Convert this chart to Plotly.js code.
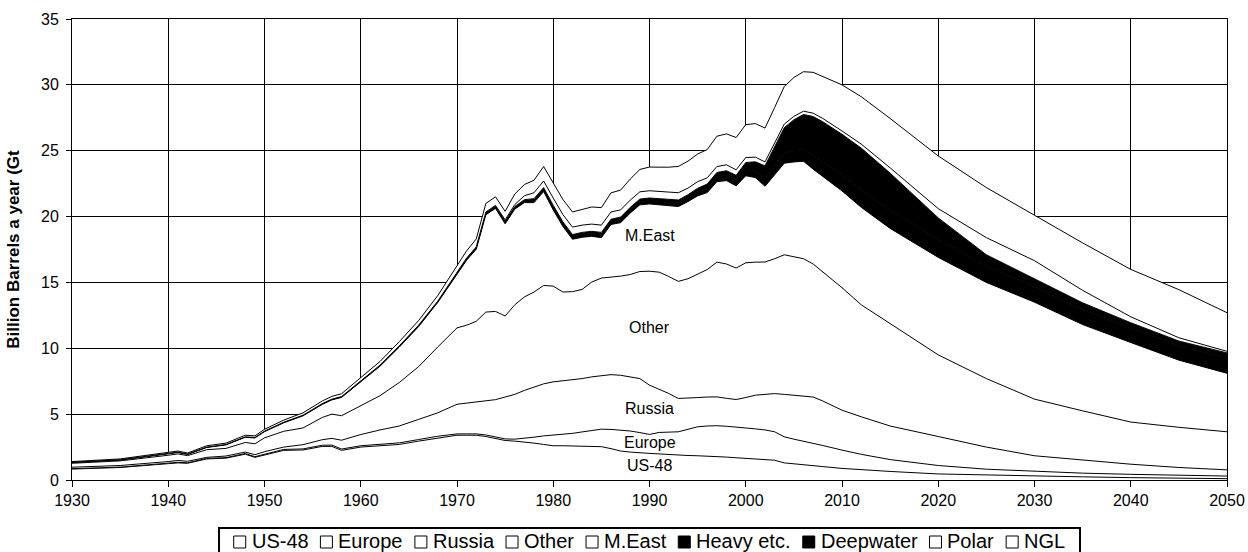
<!DOCTYPE html>
<html>
<head>
<meta charset="utf-8">
<script src="https://cdn.plot.ly/plotly-3.0.1.min.js"></script>
<style>html,body{margin:0;padding:0;background:#fff;}#chart{width:1248px;height:552px;}</style>
</head>
<body>
<div id="chart"></div>
<script>
// Years of the series (annual where the curves wiggle)
const years = [1930,1935,1940,1941,1942,1944,1946,1948,1949,1950,1952,1954,1956,1957,1958,1960,1962,1964,1966,1968,
1970,1971,1972,1973,1974,1975,1976,1977,1978,1979,1980,1981,1982,1983,1984,1985,1986,1987,1988,1989,1990,1991,1992,1993,1994,1995,1996,1997,1998,1999,2000,2001,2002,2003,2004,2005,2006,2007,2008,
2010,2012,2015,2020,2025,2030,2035,2040,2045,2050];

// Production by source, billion barrels a year (stacked bottom to top)
const us48 = [0.83,0.95,1.24,1.30,1.27,1.60,1.66,1.96,1.72,1.90,2.25,2.28,2.55,2.55,2.25,2.50,2.60,2.70,2.95,3.20,
3.40,3.40,3.40,3.30,3.15,3.00,2.95,2.90,2.80,2.70,2.60,2.60,2.58,2.57,2.55,2.53,2.38,2.20,2.12,2.05,2.02,1.98,1.93,1.89,1.86,1.84,1.82,1.79,1.74,1.69,1.64,1.64,1.58,1.50,1.30,1.22,1.15,1.08,1.02,
0.88,0.78,0.65,0.46,0.37,0.30,0.24,0.18,0.14,0.10];
const europe = [0.03,0.03,0.04,0.04,0.04,0.04,0.04,0.05,0.05,0.05,0.07,0.08,0.09,0.10,0.10,0.10,0.10,0.12,0.12,0.12,
0.10,0.12,0.10,0.12,0.10,0.12,0.15,0.25,0.45,0.65,0.81,0.85,0.96,1.08,1.23,1.33,1.46,1.60,1.60,1.55,1.44,1.63,1.70,1.77,1.99,2.20,2.28,2.33,2.34,2.35,2.31,2.24,2.22,2.16,1.98,1.88,1.80,1.70,1.60,
1.39,1.17,0.90,0.64,0.45,0.35,0.28,0.25,0.22,0.20];
const russia = [0.11,0.12,0.12,0.14,0.11,0.08,0.12,0.11,0.15,0.20,0.18,0.32,0.42,0.51,0.67,0.85,1.10,1.28,1.53,1.78,
2.25,2.33,2.45,2.58,2.85,3.18,3.40,3.65,3.82,3.95,4.04,4.07,4.04,4.05,4.05,4.04,4.16,4.15,4.13,4.10,3.74,3.29,2.94,2.53,2.35,2.22,2.20,2.19,2.12,2.07,2.31,2.56,2.70,2.90,3.22,3.33,3.40,3.52,3.38,
3.03,2.85,2.55,2.20,1.68,1.19,0.98,0.77,0.59,0.47];
const other = [0.30,0.35,0.48,0.50,0.43,0.58,0.58,0.73,0.83,1.05,1.20,1.27,1.69,1.84,1.86,2.20,2.60,3.30,4.00,5.00,
5.80,5.90,6.10,6.75,6.70,6.15,6.80,7.10,7.20,7.47,7.27,6.75,6.72,6.77,7.20,7.43,7.40,7.53,7.75,8.13,8.65,8.88,8.88,8.89,9.08,9.34,9.68,10.23,10.20,9.98,10.23,10.10,10.05,10.24,10.60,10.52,10.45,10.10,9.80,
9.30,8.50,7.80,6.20,5.20,4.30,3.75,3.20,3.05,2.89];
const meast = [0.06,0.07,0.11,0.11,0.09,0.17,0.27,0.39,0.44,0.47,0.64,0.92,0.99,1.08,1.39,1.78,2.24,2.69,3.04,3.38,
4.10,4.94,5.47,7.39,7.82,7.00,7.26,7.16,6.79,7.13,5.78,4.98,3.98,3.96,3.47,3.07,4.00,4.06,4.67,5.06,5.11,5.11,5.38,5.68,5.86,5.97,5.84,6.11,6.33,6.24,6.61,6.42,5.75,6.40,6.95,7.20,7.40,7.20,7.25,
7.35,7.40,7.20,7.40,7.30,7.36,6.55,6.04,5.10,4.44];
const heavy = [0.02,0.02,0.03,0.03,0.03,0.03,0.03,0.04,0.04,0.04,0.05,0.05,0.06,0.06,0.06,0.07,0.08,0.09,0.10,0.10,
0.12,0.12,0.13,0.14,0.15,0.15,0.15,0.16,0.17,0.18,0.19,0.20,0.20,0.21,0.22,0.23,0.23,0.24,0.24,0.25,0.25,0.26,0.27,0.28,0.30,0.32,0.35,0.37,0.40,0.42,0.45,0.50,0.55,0.65,0.75,0.85,0.95,1.05,1.10,
1.20,1.30,1.40,1.35,1.25,1.20,1.15,1.10,1.10,1.20];
const deepwater = [0,0,0,0,0,0,0,0,0,0,0,0,0,0,0,0,0,0,0,0,
0.01,0.02,0.02,0.03,0.03,0.05,0.05,0.06,0.13,0.12,0.16,0.15,0.15,0.16,0.16,0.17,0.17,0.18,0.19,0.19,0.20,0.20,0.20,0.22,0.22,0.26,0.30,0.33,0.35,0.38,0.55,0.70,1.00,1.45,1.95,2.35,2.60,2.95,3.05,
3.10,3.20,2.80,1.65,0.85,0.55,0.50,0.40,0.35,0.35];
const polar = [0,0,0,0,0,0,0,0,0,0,0,0,0,0,0,0,0,0,0,0,
0.02,0.02,0.03,0.04,0.05,0.10,0.15,0.30,0.45,0.50,0.55,0.55,0.57,0.55,0.55,0.55,0.55,0.55,0.55,0.55,0.55,0.55,0.55,0.55,0.50,0.50,0.47,0.45,0.45,0.42,0.38,0.35,0.30,0.28,0.27,0.26,0.25,0.25,0.25,
0.25,0.30,0.40,0.70,1.30,1.40,0.95,0.45,0.25,0.12];
const ngl = [0.05,0.06,0.08,0.08,0.08,0.10,0.10,0.12,0.12,0.14,0.16,0.18,0.20,0.21,0.22,0.25,0.28,0.32,0.36,0.42,
0.50,0.55,0.60,0.65,0.65,0.65,0.80,0.85,0.95,1.10,1.15,1.15,1.15,1.18,1.30,1.33,1.45,1.50,1.60,1.70,1.80,1.85,1.90,2.00,2.05,2.10,2.15,2.30,2.35,2.45,2.50,2.55,2.57,2.70,2.85,2.95,3.00,3.10,3.20,
3.50,3.60,3.75,4.00,3.80,3.45,3.60,3.60,3.65,2.93];

const seriesNames = ['US-48','Europe','Russia','Other','M.East','Heavy etc.','Deepwater','Polar','NGL'];
const seriesValues = [us48, europe, russia, other, meast, heavy, deepwater, polar, ngl];
const seriesFill = ['#ffffff','#ffffff','#ffffff','#ffffff','#ffffff','#000000','#000000','#ffffff','#ffffff'];

// In-chart region labels
const labelText = ['M.East','Other','Russia','Europe','US-48'];
const labelYear = [1990,1990,1990,1990,1990];
const labelValue = [18.6,11.6,5.45,2.85,1.1];

const FONT = 'Liberation Sans, Arial, Helvetica, sans-serif';
const W = 1248, H = 552, ML = 72, MR = 21, MT = 19, MB = 72;
const PW = W - ML - MR, PH = H - MT - MB;
const px2paper = px => (px - ML) / PW;
const py2paper = py => (H - MB - py) / PH;

const traces = seriesNames.map((n, i) => ({
  x: years, y: seriesValues[i], name: n, type: 'scatter', mode: 'lines',
  stackgroup: 'oil', line: {color: '#000', width: 1, shape: 'linear'},
  fillcolor: seriesFill[i], showlegend: false, hoverinfo: 'x+y+name'
}));

const annotations = labelText.map((t, i) => ({
  x: labelYear[i], y: labelValue[i], xref: 'x', yref: 'y', text: t, showarrow: false,
  font: {family: FONT, size: 16, color: '#000'}
}));
const shapes = [];

// ---- Legend row (boxed, centred under the plot) ----
const LEG_FONT = 20, SQ = 12, GAP_IN = 6, GAP_OUT = 12;
const ctx = document.createElement('canvas').getContext('2d');
ctx.font = LEG_FONT + 'px "Liberation Sans", Arial, sans-serif';
const tw = seriesNames.map(n => ctx.measureText(n).width);
const total = tw.reduce((a, b) => a + b, 0) + seriesNames.length * (SQ + GAP_IN) + (seriesNames.length - 1) * GAP_OUT;
const centre = ML + PW / 2;
let cx = centre - total / 2;
const legTop = 528, legMid = 541;
shapes.push({type: 'rect', xref: 'paper', yref: 'paper', x0: px2paper(219), x1: px2paper(1080),
  y0: py2paper(legTop), y1: py2paper(legTop + 34), line: {color: '#000', width: 2}, fillcolor: '#fff', layer: 'above'});
seriesNames.forEach((n, i) => {
  shapes.push({type: 'rect', xref: 'paper', yref: 'paper', x0: px2paper(cx), x1: px2paper(cx + SQ),
    y0: py2paper(legMid + 7), y1: py2paper(legMid + 7 - SQ), line: {color: '#000', width: 1},
    fillcolor: seriesFill[i], layer: 'above'});
  annotations.push({xref: 'paper', yref: 'paper', x: px2paper(cx + SQ + GAP_IN - 1), y: py2paper(legMid),
    xanchor: 'left', yanchor: 'middle', text: n, showarrow: false, borderpad: 0,
    font: {family: FONT, size: LEG_FONT, color: '#000'}});
  cx += SQ + GAP_IN + tw[i] + GAP_OUT;
});

const layout = {
  width: W, height: H,
  margin: {l: ML, r: MR, t: MT, b: MB, pad: 0},
  paper_bgcolor: '#fff', plot_bgcolor: '#fff',
  showlegend: false,
  font: {family: FONT, color: '#000'},
  xaxis: {
    range: [1930, 2050], tick0: 1930, dtick: 10, showgrid: true, gridcolor: '#000', gridwidth: 1,
    showline: true, mirror: true, linecolor: '#000', linewidth: 1, zeroline: false,
    ticks: 'outside', ticklen: 6, tickcolor: '#000', tickwidth: 1,
    tickfont: {family: FONT, size: 16, color: '#000'}, fixedrange: true
  },
  yaxis: {
    range: [0, 35], tick0: 0, dtick: 5, showgrid: true, gridcolor: '#000', gridwidth: 1,
    showline: true, mirror: true, linecolor: '#000', linewidth: 1, zeroline: false,
    ticks: 'outside', ticklen: 5, tickcolor: '#000', tickwidth: 1, ticklabelstandoff: 4,
    tickfont: {family: FONT, size: 16, color: '#000'}, fixedrange: true,
    title: {text: '<b>Billion Barrels a year (Gt</b>', font: {family: FONT, size: 17, color: '#000'}, standoff: 17}
  },
  annotations: annotations,
  shapes: shapes
};

Plotly.newPlot('chart', traces, layout, {displayModeBar: false, staticPlot: true});
</script>
</body>
</html>
